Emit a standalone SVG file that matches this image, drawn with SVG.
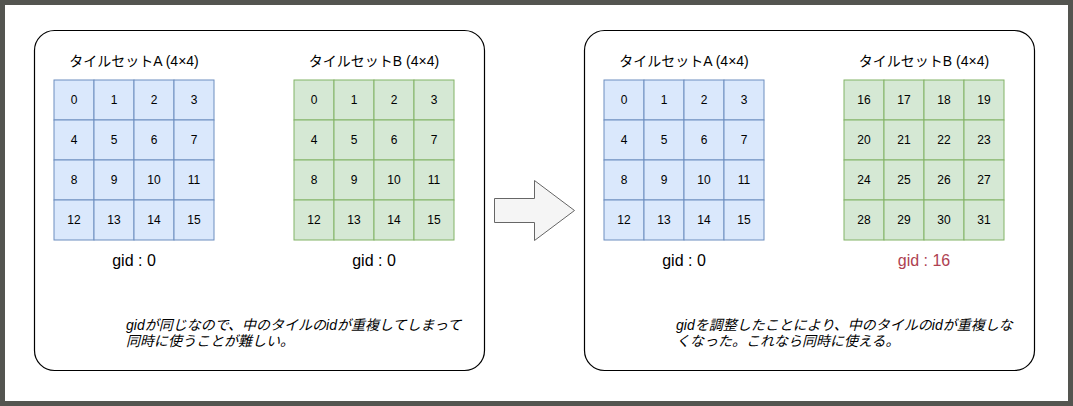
<svg xmlns="http://www.w3.org/2000/svg" width="1073" height="406" viewBox="0 0 1073 406">
<defs>
<style>
.frame{fill:#ffffff;stroke:#000000;stroke-width:1.2}
.a{fill:#dae8fc;stroke:#6c8ebf;stroke-width:1}
.b{fill:#d5e8d4;stroke:#82b366;stroke-width:1}
.num{font-family:"Liberation Sans",Arial,sans-serif;font-size:12px;fill:#000;text-anchor:middle;dominant-baseline:central}
.title{font-family:"Liberation Sans","Noto Sans CJK JP",sans-serif;font-size:14px;fill:#000;text-anchor:middle}
.gid{font-family:"Liberation Sans",Arial,sans-serif;font-size:16px;fill:#000;text-anchor:middle}
.gidr{fill:#ae4151}
.note{font-family:"Liberation Sans","Noto Sans CJK JP",sans-serif;font-size:14px;font-style:italic;fill:#000}
</style>
<g id="gridA">
<rect class="a" x="0" y="0" width="40" height="40"/><rect class="a" x="40" y="0" width="40" height="40"/><rect class="a" x="80" y="0" width="40" height="40"/><rect class="a" x="120" y="0" width="40" height="40"/>
<rect class="a" x="0" y="40" width="40" height="40"/><rect class="a" x="40" y="40" width="40" height="40"/><rect class="a" x="80" y="40" width="40" height="40"/><rect class="a" x="120" y="40" width="40" height="40"/>
<rect class="a" x="0" y="80" width="40" height="40"/><rect class="a" x="40" y="80" width="40" height="40"/><rect class="a" x="80" y="80" width="40" height="40"/><rect class="a" x="120" y="80" width="40" height="40"/>
<rect class="a" x="0" y="120" width="40" height="40"/><rect class="a" x="40" y="120" width="40" height="40"/><rect class="a" x="80" y="120" width="40" height="40"/><rect class="a" x="120" y="120" width="40" height="40"/>
</g>
<g id="gridB">
<rect class="b" x="0" y="0" width="40" height="40"/><rect class="b" x="40" y="0" width="40" height="40"/><rect class="b" x="80" y="0" width="40" height="40"/><rect class="b" x="120" y="0" width="40" height="40"/>
<rect class="b" x="0" y="40" width="40" height="40"/><rect class="b" x="40" y="40" width="40" height="40"/><rect class="b" x="80" y="40" width="40" height="40"/><rect class="b" x="120" y="40" width="40" height="40"/>
<rect class="b" x="0" y="80" width="40" height="40"/><rect class="b" x="40" y="80" width="40" height="40"/><rect class="b" x="80" y="80" width="40" height="40"/><rect class="b" x="120" y="80" width="40" height="40"/>
<rect class="b" x="0" y="120" width="40" height="40"/><rect class="b" x="40" y="120" width="40" height="40"/><rect class="b" x="80" y="120" width="40" height="40"/><rect class="b" x="120" y="120" width="40" height="40"/>
</g>
<g id="nums0">
<text class="num" x="20" y="20">0</text><text class="num" x="60" y="20">1</text><text class="num" x="100" y="20">2</text><text class="num" x="140" y="20">3</text>
<text class="num" x="20" y="60">4</text><text class="num" x="60" y="60">5</text><text class="num" x="100" y="60">6</text><text class="num" x="140" y="60">7</text>
<text class="num" x="20" y="100">8</text><text class="num" x="60" y="100">9</text><text class="num" x="100" y="100">10</text><text class="num" x="140" y="100">11</text>
<text class="num" x="20" y="140">12</text><text class="num" x="60" y="140">13</text><text class="num" x="100" y="140">14</text><text class="num" x="140" y="140">15</text>
</g>
</defs>
<rect x="0" y="0" width="1073" height="406" fill="#ffffff"/>
<rect x="2.5" y="2.5" width="1068" height="401" fill="none" stroke="#545550" stroke-width="5"/>

<g id="panel-left">
<rect class="frame" x="34.5" y="30.5" width="450" height="340" rx="20" ry="20"/>
<g id="tilesetA-left">
<text class="title" x="134" y="66">タイルセットA (4×4)</text>
<use href="#gridA" x="54" y="80"/>
<use href="#nums0" x="54" y="80"/>
<text class="gid" x="134" y="266">gid : 0</text>
</g>
<g id="tilesetB-left">
<text class="title" x="374" y="66">タイルセットB (4×4)</text>
<use href="#gridB" x="294" y="80"/>
<use href="#nums0" x="294" y="80"/>
<text class="gid" x="374" y="266">gid : 0</text>
</g>
<text class="note" x="126" y="330">gidが同じなので、中のタイルのidが重複してしまって</text>
<text class="note" x="126" y="346">同時に使うことが難しい。</text>
</g>

<g id="connectors">
<path d="M494.5,198.5 H534.5 V180.5 L574.5,210.5 L534.5,240.5 V222.5 H494.5 Z" fill="#f5f5f5" stroke="#666666" stroke-width="1"/>
</g>

<g id="panel-right">
<rect class="frame" x="584.5" y="30.5" width="450" height="340" rx="20" ry="20"/>
<g id="tilesetA-right">
<text class="title" x="684" y="66">タイルセットA (4×4)</text>
<use href="#gridA" x="604" y="80"/>
<use href="#nums0" x="604" y="80"/>
<text class="gid" x="684" y="266">gid : 0</text>
</g>
<g id="tilesetB-right">
<text class="title" x="924" y="66">タイルセットB (4×4)</text>
<use href="#gridB" x="844" y="80"/>
<g transform="translate(844,80)">
<text class="num" x="20" y="20">16</text><text class="num" x="60" y="20">17</text><text class="num" x="100" y="20">18</text><text class="num" x="140" y="20">19</text>
<text class="num" x="20" y="60">20</text><text class="num" x="60" y="60">21</text><text class="num" x="100" y="60">22</text><text class="num" x="140" y="60">23</text>
<text class="num" x="20" y="100">24</text><text class="num" x="60" y="100">25</text><text class="num" x="100" y="100">26</text><text class="num" x="140" y="100">27</text>
<text class="num" x="20" y="140">28</text><text class="num" x="60" y="140">29</text><text class="num" x="100" y="140">30</text><text class="num" x="140" y="140">31</text>
</g>
<text class="gid gidr" x="924" y="266">gid : 16</text>
</g>
<text class="note" x="676" y="330">gidを調整したことにより、中のタイルのidが重複しな</text>
<text class="note" x="676" y="346">くなった。これなら同時に使える。</text>
</g>
</svg>
